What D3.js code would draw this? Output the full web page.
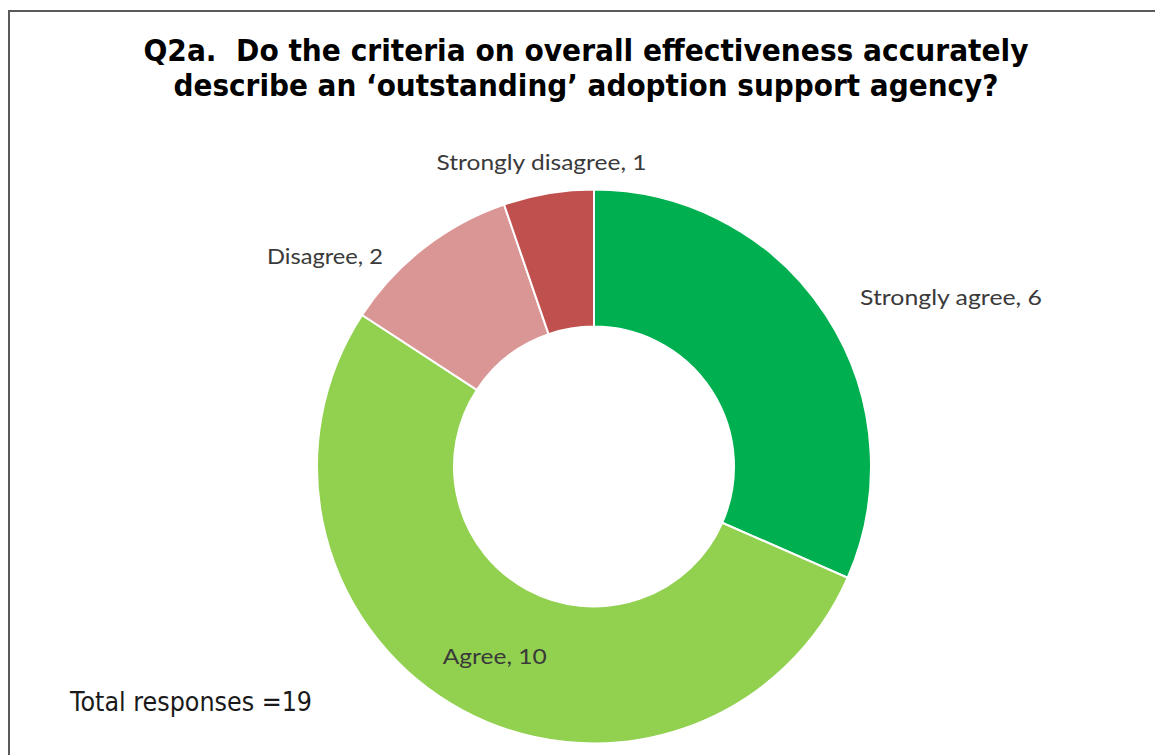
<!DOCTYPE html>
<html>
<head>
<meta charset="utf-8">
<script src="https://cdn.jsdelivr.net/npm/d3@7/dist/d3.min.js"></script>
<style>
  html, body { margin: 0; padding: 0; background: #ffffff; }
  svg { display: block; }
  text { white-space: pre; }
</style>
</head>
<body>
<svg id="chart" width="1155" height="755"></svg>
<script>
// Survey responses for question Q2a
const categories = ["Strongly agree", "Agree", "Disagree", "Strongly disagree"];
const responses = [6, 10, 2, 1];
const sliceColors = ["#00B050", "#92D050", "#DA9694", "#C0504D"];
const titleLines = [
  "Q2a.  Do the criteria on overall effectiveness accurately",
  "describe an \u2018outstanding\u2019 adoption support agency?"
];
const totalLabel = "Total responses =" + d3.sum(responses);

const svg = d3.select("#chart");
const W = 1155, H = 755;

// Frame around the chart area (runs off the right and bottom edges)
svg.append("rect")
  .attr("x", 9).attr("y", 11)
  .attr("width", W + 20).attr("height", H + 20)
  .attr("fill", "#ffffff")
  .attr("stroke", "#5a5a5a")
  .attr("stroke-width", 2);

// Title, two centred lines
const titleWidths = [885, 825];
svg.append("g").selectAll("text")
  .data(titleLines)
  .join("text")
  .attr("x", 586)
  .attr("y", (d, i) => 61 + i * 35)
  .attr("text-anchor", "middle")
  .attr("font-family", "'DejaVu Sans', Verdana, sans-serif")
  .attr("font-weight", "bold")
  .attr("font-size", 31)
  .attr("fill", "#000000")
  .attr("textLength", (d, i) => titleWidths[i])
  .attr("lengthAdjust", "spacingAndGlyphs")
  .text(d => d);

// Donut
const cx = 594, cy = 466.5;
const outerR = 277, innerR = 140;

const pie = d3.pie().sort(null).value(d => d.value);
const arc = d3.arc().innerRadius(innerR).outerRadius(outerR);

const data = categories.map((c, i) => ({ name: c, value: responses[i], color: sliceColors[i] }));
const arcs = pie(data);

const g = svg.append("g").attr("transform", `translate(${cx},${cy})`);

g.selectAll("path")
  .data(arcs)
  .join("path")
  .attr("d", arc)
  .attr("fill", d => d.data.color)
  .attr("stroke", "#ffffff")
  .attr("stroke-width", 2);

// Data labels: "Agree" sits inside its slice, the rest outside the ring
const labelPlacement = {
  "Strongly agree":    { inside: false, x: 860, y: 305, anchor: "start", width: 182 },
  "Agree":             { inside: true,  dy: 14, anchor: "middle", width: 104 },
  "Disagree":          { inside: false, x: 325, y: 264, anchor: "middle", width: 116 },
  "Strongly disagree": { inside: false, x: 541.5, y: 170, anchor: "middle", width: 210 }
};

svg.append("g").selectAll("text")
  .data(arcs)
  .join("text")
  .each(function (d) {
    const p = labelPlacement[d.data.name];
    let x, y;
    if (p.inside) {
      const c = arc.centroid(d);
      x = cx + c[0];
      y = cy + c[1] + p.dy;
    } else {
      x = p.x; y = p.y;
    }
    d3.select(this)
      .attr("x", x).attr("y", y)
      .attr("text-anchor", p.anchor)
      .attr("textLength", p.width)
      .attr("lengthAdjust", "spacingAndGlyphs");
  })
  .attr("font-family", "Lato, 'Open Sans', sans-serif")
  .attr("font-size", 22)
  .attr("fill", "#3a3a3a")
  .text(d => `${d.data.name}, ${d.data.value}`);

// Total responses note
svg.append("text")
  .attr("x", 70).attr("y", 711)
  .attr("font-family", "'DejaVu Sans', Verdana, sans-serif")
  .attr("font-size", 26)
  .attr("fill", "#1a1a1a")
  .attr("textLength", 242)
  .attr("lengthAdjust", "spacingAndGlyphs")
  .text(totalLabel);
</script>
</body>
</html>
